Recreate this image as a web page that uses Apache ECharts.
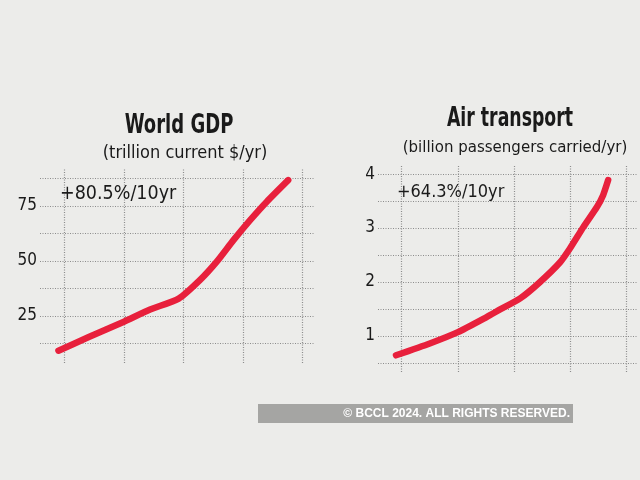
<!DOCTYPE html>
<html><head><meta charset="utf-8">
<script src="https://cdn.jsdelivr.net/npm/echarts@6/dist/echarts.min.js"></script>
<style>html,body{margin:0;padding:0;background:#ececea;}#c{width:640px;height:480px;}</style>
</head><body><div id="c"></div>
<script>
// World GDP (trillion current $/yr)
const gdpYears  = [1979, 1984, 1990, 1994.4, 1999.2, 2002.8, 2005.6, 2008.4, 2011.2, 2014, 2017.6];
const gdpValues = [9.2, 15.3, 22.4, 27.9, 32.9, 41.4, 49.7, 59.5, 68.6, 77, 86.8];
const gdpTickLabels = [25, 50, 75];
const gdpGridY = [12.5, 25, 37.5, 50, 62.5, 75, 87.5];
// Air transport (billion passengers carried/yr)
const airYears  = [1979, 1985, 1990, 1995.1, 1997.5, 2001, 2004.6, 2008.2, 2009.9, 2012.3, 2014.7, 2015.8, 2016.7];
const airValues = [0.64, 0.86, 1.07, 1.35, 1.49, 1.69, 2.0, 2.37, 2.62, 3.02, 3.39, 3.61, 3.89];
const airTickLabels = [1, 2, 3, 4];
const airGridY = [0.5, 1, 1.5, 2, 2.5, 3, 3.5, 4];
// shared vertical grid positions (years)
const gridX = [1980, 1990, 2000, 2010, 2020];

const FONT = '"Liberation Sans Narrow","DejaVu Sans Condensed","Roboto",sans-serif';
const RED = '#e8203c';
const GRIDC = '#8c8c8c';

function gridLines(xs, ys, xr, yr) {
  const d = [];
  xs.forEach(x => d.push([{coord: [x, yr[0]]}, {coord: [x, yr[1]]}]));
  ys.forEach(y => d.push([{coord: [xr[0], y]}, {coord: [xr[1], y]}]));
  return d;
}

const gX = [1975.9, 2022.1], gY = [3.6, 92.3];
const aX = [1975.8, 2022.0], aY = [0.33, 4.17];

const chart = echarts.init(document.getElementById('c'), null, {renderer: 'canvas'});
chart.setOption({
  backgroundColor: '#ececea',
  animation: false,
  title: [
    {text: '(trillion current $/yr)', left: 180, top: 139, textAlign: 'center',
     textStyle: {fontFamily: FONT, fontSize: 18, fontWeight: 'normal', color: '#1a1a1a'}},
    {text: '(billion passengers carried/yr)', left: 510, top: 134, textAlign: 'center',
     textStyle: {fontFamily: FONT, fontSize: 16.7, fontWeight: 'normal', color: '#1a1a1a'}},
    {text: '+80.5%/10yr', left: 55, top: 179,
     textStyle: {fontFamily: FONT, fontSize: 19.5, fontWeight: 'normal', color: '#1a1a1a'}},
    {text: '+64.3%/10yr', left: 392, top: 178,
     textStyle: {fontFamily: FONT, fontSize: 18, fontWeight: 'normal', color: '#1a1a1a'}}
  ],
  graphic: [
    {type: 'text', x: 179, y: 126, scaleX: 0.77, style: {text: 'World GDP', fill: '#1a1a1a',
      font: 'bold 26px "DejaVu Sans Condensed","DejaVu Sans",sans-serif', align: 'center', verticalAlign: 'middle'}},
    {type: 'text', x: 510, y: 119, scaleX: 0.74, style: {text: 'Air transport', fill: '#1a1a1a',
      font: 'bold 26px "DejaVu Sans Condensed","DejaVu Sans",sans-serif', align: 'center', verticalAlign: 'middle'}},
    {type: 'rect', shape: {x: 258, y: 404, width: 315, height: 19}, style: {fill: '#a5a5a3'}},
    {type: 'text', x: 570, y: 413.5, style: {text: '© BCCL 2024. ALL RIGHTS RESERVED.', fill: '#ffffff',
      font: 'bold 12px "Liberation Sans","Arial",sans-serif', align: 'right', verticalAlign: 'middle'}}
  ],
  grid: [
    {left: 40, top: 168, width: 275, height: 195},
    {left: 378, top: 165, width: 260, height: 207}
  ],
  xAxis: [
    {gridIndex: 0, type: 'value', min: gX[0], max: gX[1], show: false},
    {gridIndex: 1, type: 'value', min: aX[0], max: aX[1], show: false}
  ],
  yAxis: [
    {gridIndex: 0, type: 'value', min: gY[0], max: gY[1],
     axisLine: {show: false}, axisTick: {show: false}, splitLine: {show: false},
     axisLabel: {customValues: gdpTickLabels, margin: 3, fontFamily: FONT, fontSize: 17, color: '#1a1a1a'}},
    {gridIndex: 1, type: 'value', min: aY[0], max: aY[1],
     axisLine: {show: false}, axisTick: {show: false}, splitLine: {show: false},
     axisLabel: {customValues: airTickLabels, margin: 3, fontFamily: FONT, fontSize: 17, color: '#1a1a1a'}}
  ],
  series: [
    {type: 'line', xAxisIndex: 0, yAxisIndex: 0, data: gdpYears.map((x, i) => [x, gdpValues[i]]),
     smooth: 0.2, showSymbol: false, silent: true,
     lineStyle: {color: RED, width: 6.5, cap: 'round', join: 'round'}, z: 5,
     markLine: {silent: true, symbol: 'none', label: {show: false}, z: 1,
       lineStyle: {color: GRIDC, width: 1.2, type: [1, 1.5]},
       data: gridLines(gridX, gdpGridY, gX, gY)}},
    {type: 'line', xAxisIndex: 1, yAxisIndex: 1, data: airYears.map((x, i) => [x, airValues[i]]),
     smooth: 0.2, showSymbol: false, silent: true,
     lineStyle: {color: RED, width: 6.5, cap: 'round', join: 'round'}, z: 5,
     markLine: {silent: true, symbol: 'none', label: {show: false}, z: 1,
       lineStyle: {color: GRIDC, width: 1.2, type: [1, 1.5]},
       data: gridLines(gridX, airGridY, aX, aY)}}
  ]
});
</script></body></html>
